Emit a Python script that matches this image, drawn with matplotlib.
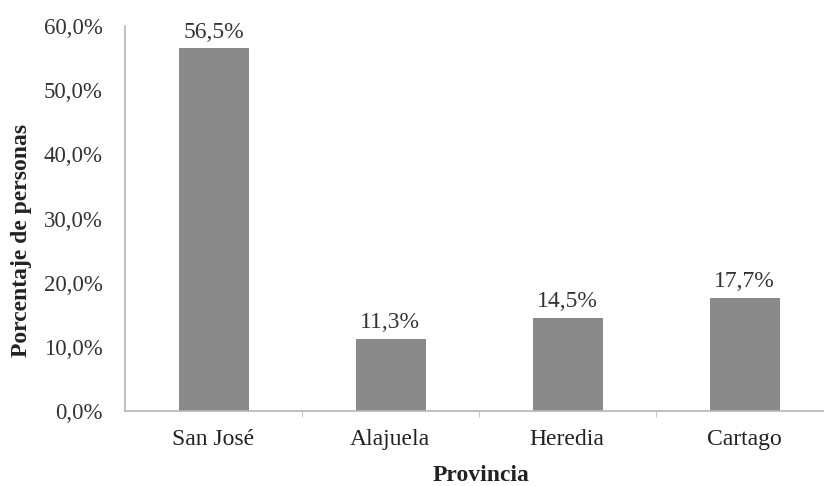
import matplotlib
matplotlib.use("Agg")
import matplotlib.pyplot as plt

categories = ["San José", "Alajuela", "Heredia", "Cartago"]
values = [56.5, 11.3, 14.5, 17.7]
yticks = [0, 10, 20, 30, 40, 50, 60]

plt.rcParams['font.family'] = ['Liberation Serif', 'DejaVu Serif']

fig = plt.figure(figsize=(8.24, 4.86), dpi=100)
ax = fig.add_axes([0.1517, 0.154, 0.8483, 0.7925])
x = list(range(len(categories)))
ax.bar(x, values, width=0.39, color="#8a8a8a", edgecolor="#7c7c7c", linewidth=0.6)
for xi, v in zip(x, values):
    ax.text(xi, v + 0.9, f"{v:.1f}".replace(".", ",") + "%", ha="center", va="bottom",
            fontsize=17, color="#333333")
ax.set_xlim(-0.5, 3.452)
ax.set_ylim(0, 60)
ax.set_yticks(yticks)
ax.set_yticklabels([f"{t:.1f}".replace(".", ",") + "%" for t in yticks], fontsize=16.5, color="#333333")
ax.set_xticks(x)
ax.set_xticklabels(categories, fontsize=17, color="#222222")
ax.set_xticks([0.5, 1.5, 2.5], minor=True)
ax.tick_params(axis="x", which="major", length=0, pad=13)
ax.tick_params(axis="x", which="minor", length=4, color="#bbbbbb")
ax.tick_params(axis="y", length=0, pad=16)
for s in ["top", "right"]:
    ax.spines[s].set_visible(False)
for s in ["left", "bottom"]:
    ax.spines[s].set_color("#b5b5b5")
    ax.spines[s].set_linewidth(1.2)
ax.set_ylabel("Porcentaje de personas", fontsize=17, fontweight="bold", color="#222222")
ax.yaxis.set_label_coords(22 / 824, 1 - 240 / 486, transform=fig.transFigure)
ax.yaxis.label.set_va("center")
ax.set_xlabel("Provincia", fontsize=17, fontweight="bold", color="#222222")
ax.xaxis.set_label_coords(481 / 824, 1 - 475 / 486, transform=fig.transFigure)
ax.xaxis.label.set_va("center")
fig.savefig("out.png", dpi=100)
